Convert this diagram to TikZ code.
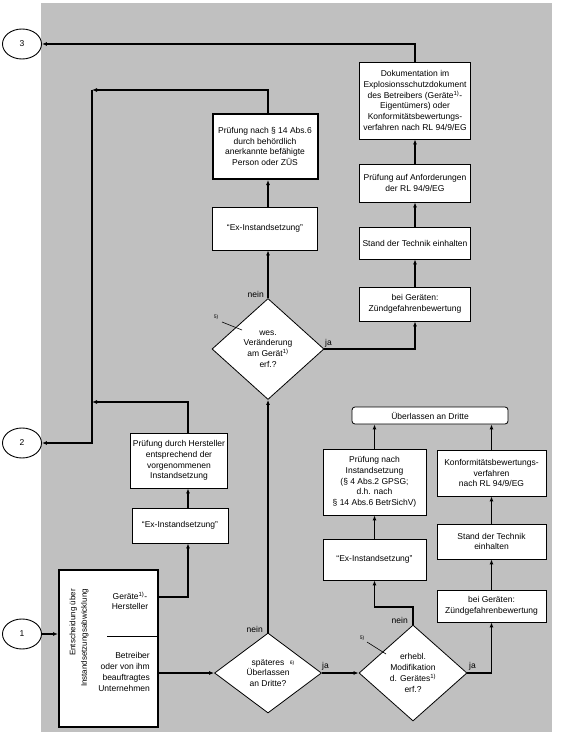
\documentclass[tikz,border=0pt]{standalone}
\usepackage{fontspec}
\setmainfont{Liberation Sans}
\usetikzlibrary{arrows.meta,shapes.geometric,calc}
\definecolor{bggray}{RGB}{192,192,192}
\begin{document}
\begin{tikzpicture}[x=1pt,y=-1pt,
  txt/.style={font=\fontsize{8.5}{10.7}\selectfont},
  box/.style={draw, fill=white, line width=0.8pt, inner sep=1pt, align=center, txt},
  thickbox/.style={box, line width=2pt},
  dia/.style={draw, fill=white, diamond, line width=0.8pt, inner sep=0pt, align=center, txt},
  circ/.style={draw, fill=white, ellipse, line width=0.9pt, inner sep=0pt, minimum width=39pt, minimum height=30pt, font=\fontsize{8.5}{10}\selectfont},
  arr/.style={line width=1.6pt, -{Latex[length=5pt,width=4pt]}},
  ln/.style={line width=1.6pt},
  lbl/.style={font=\fontsize{8.5}{10}\selectfont, inner sep=0pt},
  fn/.style={font=\fontsize{5}{6}\selectfont, inner sep=0pt},
]
\useasboundingbox (0,0) rectangle (560,738);
\fill[bggray] (41,3) rectangle (552,732);

% circles
\node[circ] (c3) at (22,44) {3};
\node[circ] (c2) at (22,443) {2};
\node[circ] (c1) at (22,634) {1};

% top right column
\node[box, minimum width=111pt, minimum height=77pt] (doku) at (415,100.5)
  {Dokumentation im\\Explosionsschutzdokument\\des Betreibers (Ger\"ate\textsuperscript{1)}-\\Eigent\"umers) oder\\Konformit\"atsbewertungs-\\verfahren nach RL 94/9/EG};
\node[box, minimum width=111pt, minimum height=38pt] (pa) at (415,183)
  {Pr\"ufung auf Anforderungen\\der RL 94/9/EG};
\node[box, minimum width=111pt, minimum height=32pt] (st1) at (415,243)
  {Stand der Technik einhalten};
\node[box, minimum width=111pt, minimum height=34pt] (bg1) at (415,304)
  {bei Ger\"aten:\\Z\"undgefahrenbewertung};

% middle column
\node[thickbox, minimum width=105pt, minimum height=65pt] (p14) at (265,146.5)
  {Pr\"ufung nach \S\ 14 Abs.6\\durch beh\"ordlich\\anerkannte bef\"ahigte\\Person oder Z\"US};
\node[box, minimum width=105pt, minimum height=43pt] (ex1) at (265,228.5)
  {“Ex-Instandsetzung”};
\node[dia, minimum width=112pt, minimum height=101pt] (d1) at (268,349)
  {wes.\\Ver\"anderung\\am Ger\"at\textsuperscript{1)}\\erf.?};

% left column
\node[box, minimum width=97pt, minimum height=55pt] (pdh) at (179,460.5)
  {Pr\"ufung durch Hersteller\\entsprechend der\\vorgenommenen\\Instandsetzung};
\node[box, minimum width=96pt, minimum height=35pt] (ex2) at (180,525.5)
  {“Ex-Instandsetzung”};

% decision box
\node[draw, fill=white, line width=2pt, inner sep=0pt, minimum width=99pt, minimum height=157pt] (dec) at (108.5,648.5) {};
\node[rotate=90, align=right, inner sep=0pt, font=\fontsize{8}{11.5}\selectfont] (dect) at (79,638)
  {Entscheidung \"uber\\Instandsetzungsabwicklung};
\node[align=center, inner sep=0pt, txt] (hst) at (130,601)
  {Ger\"ate\textsuperscript{1)}-\\Hersteller};
\node[align=right, inner sep=0pt, txt, anchor=east] (btr) at (150,672)
  {Betreiber\\oder von ihm\\beauftragtes\\Unternehmen};
\coordinate (dvl) at (107,636);
\draw[line width=0.8pt] (dvl) -- (dvl -| dec.east);

% bottom diamonds
\node[dia, minimum width=107pt, minimum height=80pt] (d2) at (268,673)
  {sp\"ateres\\\"Uberlassen\\an Dritte?};
\node[dia, minimum width=108pt, minimum height=96pt] (d3) at (413,673)
  {erhebl.\\Modifikation\\d. Ger\"ates\textsuperscript{1)}\\erf.?};

% bottom right
\node[box, minimum width=103pt, minimum height=41pt] (ex3) at (374.5,559.5)
  {“Ex-Instandsetzung”};
\node[box, minimum width=103pt, minimum height=66pt] (pni) at (374.5,482)
  {Pr\"ufung nach\\Instandsetzung\\(\S\ 4 Abs.2 GPSG;\\d.h. nach\\\S\ 14 Abs.6 BetrSichV)};
\node[box, rounded corners=3pt, minimum width=156pt, minimum height=17pt] (ub) at (430,415.5)
  {\"Uberlassen an Dritte};
\node[box, minimum width=109pt, minimum height=46pt] (konf) at (491.5,473)
  {Konformit\"atsbewertungs-\\verfahren\\nach RL 94/9/EG};
\node[box, minimum width=109pt, minimum height=35pt] (st2) at (491.5,541.5)
  {Stand der Technik\\einhalten};
\node[box, minimum width=109pt, minimum height=32pt] (bg2) at (491.5,606)
  {bei Ger\"aten:\\Z\"undgefahrenbewertung};

% helper coordinates
\coordinate (j1) at (92,90);
\coordinate (j3) at (92,402);
\coordinate (colL) at (188,0);
\coordinate (yH) at (0,597);
\coordinate (k3) at (0,607);

% connectors top right
\draw[arr] (doku.north) |- (c3.east);
\draw[arr] (pa.north) -- (doku.south);
\draw[arr] (st1.north) -- (pa.south);
\draw[arr] (bg1.north) -- (st1.south);
\draw[arr] (d1.east) -| (bg1.south);

% middle
\draw[arr] (d1.north) -- (d1.north |- ex1.south);
\draw[arr] (d1.north |- ex1.north) -- (d1.north |- p14.south);
\draw[arr] (d1.north |- p14.north) |- (j1);
\draw[arr] (j1) |- (c2.east);
\draw[arr] (pdh.north -| colL) |- (j3);
\draw[arr] (ex2.north -| colL) -- (pdh.south -| colL);
\draw[arr] (dec.east |- yH) -| (ex2.south -| colL);
\draw[arr] (dec.east |- d2.west) -- (d2.west);
\draw[arr] (c1.east) -- (c1.east -| dec.west);
\draw[arr] (d2.north) -- (d1.south);
\draw[arr] (d2.east) -- (d3.west);

% bottom right
\draw[arr] (d3.north) -- (d3.north |- k3) -| (ex3.south);
\draw[arr] (ex3.north) -- (pni.south);
\draw[arr] (pni.north) -- (pni.north |- ub.south);
\draw[arr] (konf.north) -- (konf.north |- ub.south);
\draw[arr] (st2.north) -- (konf.south);
\draw[arr] (bg2.north) -- (st2.south);
\draw[arr] (d3.east) -| (bg2.south);

% labels
\node[lbl, anchor=south east] (n1) at (264,298) {nein};
\node[lbl, anchor=south west] (y1) at (325,347) {ja};
\node[lbl, anchor=south east] (n2) at (263,633) {nein};
\node[lbl, anchor=south west] (y2) at (322,670) {ja};
\node[lbl, anchor=south east] (n3) at (408,624) {nein};
\node[lbl, anchor=south west] (y3) at (469,670) {ja};

% footnotes
\node[fn] (f1) at (216,317) {5)};
\draw[line width=0.6pt] (222,322) -- (242,330);
\node[fn] (f2) at (292,663) {6)};
\node[fn] (f3) at (362,638) {5)};
\draw[line width=0.6pt] (367,642) -- (386,654);
\end{tikzpicture}
\end{document}
